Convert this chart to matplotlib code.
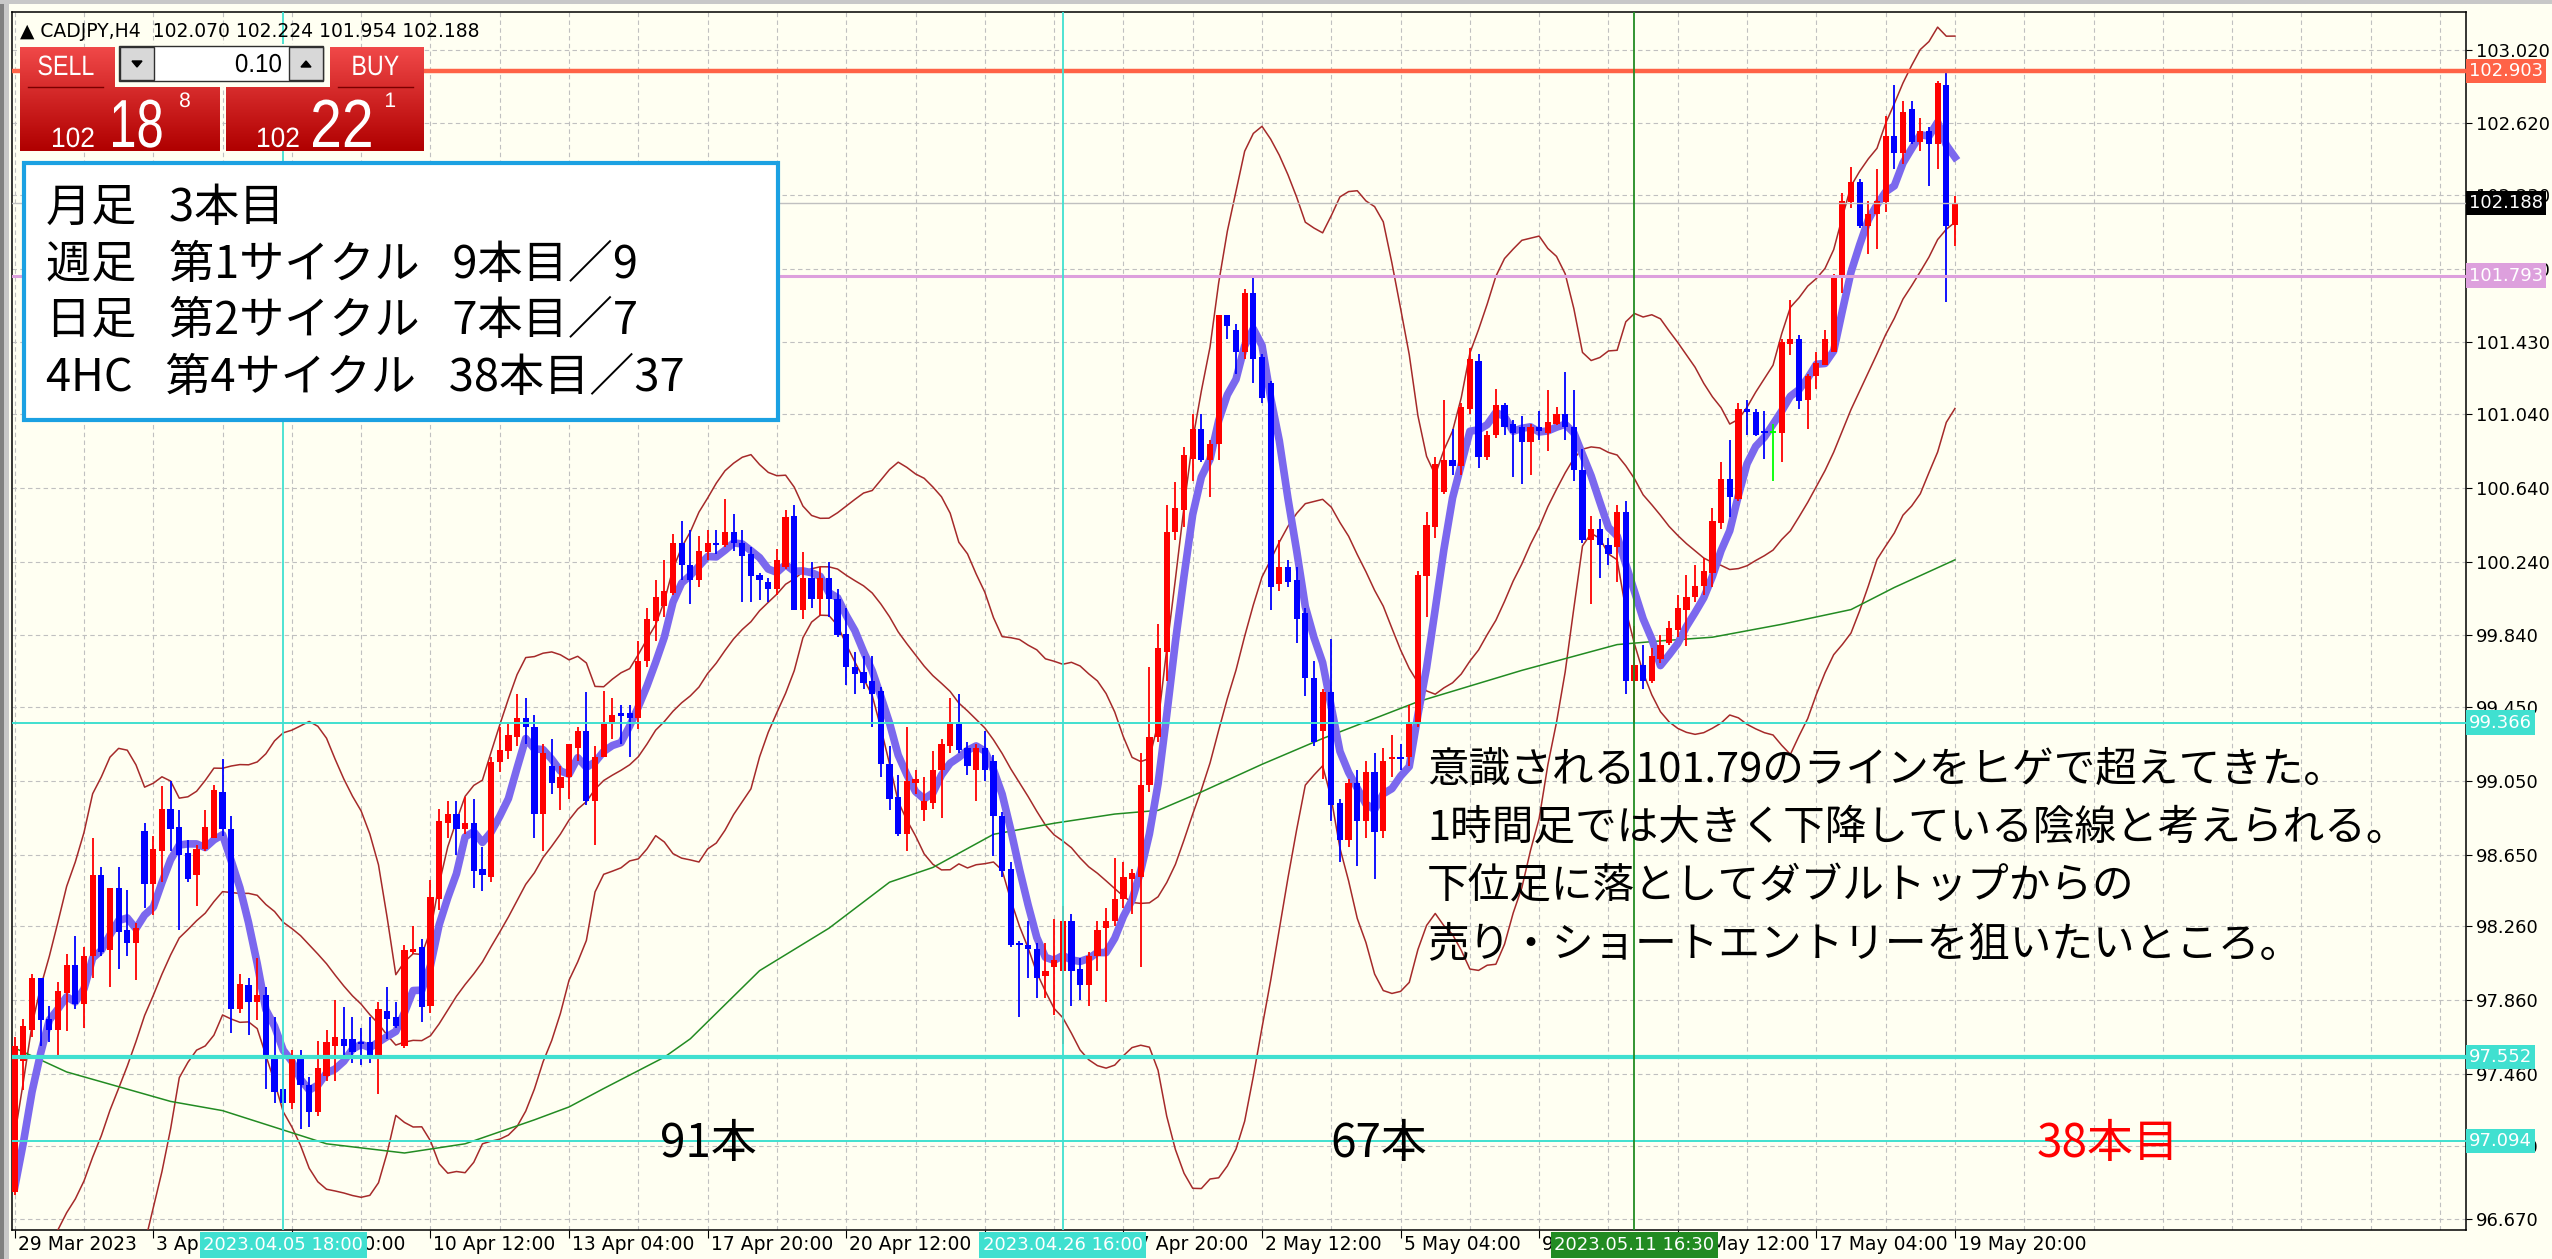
import numpy as np
import pandas as pd
import matplotlib
matplotlib.use("Agg")
import matplotlib.pyplot as plt
from matplotlib.patches import Rectangle, PathPatch, Polygon
from matplotlib.textpath import TextPath
from matplotlib.font_manager import FontProperties
from matplotlib.transforms import Affine2D
from matplotlib.colors import LinearSegmentedColormap

plt.rcParams['font.family'] = ['DejaVu Sans']
JP = ['Noto Sans CJK JP', 'DejaVu Sans']

# CADJPY H4, 29 Mar 2023 12:00 .. 19 May 2023 20:00 (225 bars)
opens = [96.82, 97.53, 97.70, 97.98, 97.76, 97.70, 97.90, 98.05, 97.84, 98.10,
         98.54, 98.13, 98.47, 98.24, 98.17, 98.78, 98.49, 98.67, 98.90, 98.80,
         98.66, 98.54, 98.68, 98.74, 98.99, 98.79, 97.81, 97.94, 97.85, 97.89,
         97.55, 97.38, 97.30, 97.55, 97.40, 97.25, 97.45, 97.61, 97.65, 97.65,
         97.63, 97.63, 97.54, 97.80, 97.77, 97.61, 98.12, 98.15, 97.83, 98.41,
         98.82, 98.87, 98.79, 98.82, 98.57, 98.53, 99.15, 99.21, 99.29, 99.39,
         99.34, 98.87, 99.13, 99.01, 99.07, 99.23, 99.32, 98.94, 99.18, 99.36,
         99.42, 99.42, 99.39, 99.70, 99.92, 100.00, 100.07, 100.34, 100.22, 100.14,
         100.29, 100.34, 100.33, 100.40, 100.34, 100.28, 100.17, 100.13, 100.09, 100.21,
         100.49, 99.98, 100.15, 100.04, 100.15, 100.04, 99.85, 99.67, 99.64, 99.59,
         99.54, 99.14, 98.96, 98.76, 99.04, 98.89, 98.93, 99.11, 99.24, 99.36,
         99.23, 99.11, 99.23, 99.16, 98.86, 98.57, 98.17, 98.16, 98.14, 97.99,
         98.04, 98.02, 98.29, 98.03, 97.94, 98.10, 98.25, 98.29, 98.41, 98.52,
         98.53, 99.03, 99.29, 99.75, 100.40, 100.52, 100.80, 100.96, 100.79, 100.88,
         101.58, 101.50, 101.38, 101.70, 101.35, 101.21, 100.12, 100.21, 100.14, 99.96,
         99.61, 99.32, 99.53, 98.93, 98.73, 99.04, 98.83, 99.10, 98.78, 99.17,
         99.18, 99.18, 99.36, 100.16, 100.43, 100.62, 100.79, 100.76, 101.07, 101.33,
         100.81, 100.93, 101.09, 100.99, 100.97, 100.89, 100.97, 100.94, 100.99, 101.04,
         100.97, 100.74, 100.36, 100.42, 100.33, 100.32, 100.51, 99.59, 99.68, 99.59,
         99.71, 99.80, 99.87, 99.98, 100.05, 100.11, 100.18, 100.45, 100.69, 100.58,
         101.07, 101.05, 100.95, 100.94, 100.94, 101.42, 101.45, 101.12, 101.25, 101.31,
         101.38, 101.79, 102.19, 102.30, 102.06, 102.13, 102.19, 102.55, 102.46, 102.70,
         102.52, 102.58, 102.51, 102.83, 102.070]
highs = [97.66, 97.76, 98.00, 97.98, 97.83, 97.96, 98.11, 98.21, 98.15, 98.74,
         98.58, 98.47, 98.58, 98.46, 98.28, 98.82, 98.75, 99.02, 99.05, 98.89,
         98.73, 98.70, 98.89, 99.03, 99.17, 98.86, 98.00, 97.98, 98.09, 97.93,
         97.77, 97.58, 97.59, 97.59, 97.44, 97.64, 97.70, 97.86, 97.82, 97.77,
         97.71, 97.77, 97.85, 97.93, 97.85, 98.16, 98.26, 98.19, 98.51, 98.90,
         98.94, 98.94, 98.96, 98.95, 98.69, 99.18, 99.34, 99.36, 99.52, 99.50,
         99.41, 99.25, 99.28, 99.13, 99.25, 99.34, 99.53, 99.24, 99.54, 99.50,
         99.46, 99.46, 99.81, 99.99, 100.14, 100.25, 100.39, 100.46, 100.41, 100.38,
         100.41, 100.41, 100.58, 100.50, 100.41, 100.32, 100.18, 100.15, 100.31, 100.52,
         100.55, 100.29, 100.24, 100.21, 100.24, 100.09, 99.99, 99.75, 99.73, 99.73,
         99.56, 99.24, 99.08, 99.34, 99.11, 99.07, 99.21, 99.28, 99.50, 99.52,
         99.26, 99.25, 99.32, 99.19, 98.88, 98.61, 98.18, 98.29, 98.17, 98.17,
         98.30, 98.37, 98.33, 98.09, 98.12, 98.29, 98.36, 98.63, 98.61, 98.57,
         99.20, 99.67, 99.90, 100.55, 100.67, 100.86, 101.04, 101.04, 100.90, 101.58,
         101.58, 101.53, 101.72, 101.78, 101.37, 101.22, 100.36, 100.25, 100.21, 99.99,
         99.70, 99.55, 99.82, 98.95, 99.06, 99.11, 99.16, 99.20, 99.23, 99.30,
         99.25, 99.46, 100.19, 100.51, 100.81, 101.12, 100.96, 101.10, 101.40, 101.37,
         100.95, 101.18, 101.10, 101.01, 101.03, 100.99, 101.06, 101.17, 101.08, 101.27,
         101.17, 100.85, 100.49, 100.47, 100.37, 100.55, 100.57, 99.89, 99.79, 99.77,
         99.84, 99.92, 100.06, 100.17, 100.22, 100.26, 100.53, 100.78, 100.90, 101.10,
         101.12, 101.07, 101.06, 100.99, 101.45, 101.66, 101.47, 101.26, 101.38, 101.50,
         101.80, 102.24, 102.38, 102.32, 102.20, 102.37, 102.66, 102.83, 102.74, 102.74,
         102.65, 102.60, 102.85, 102.90, 102.224]
lows = [96.80, 97.37, 97.66, 97.61, 97.63, 97.55, 97.69, 97.81, 97.71, 97.98,
        98.10, 97.93, 98.03, 98.10, 97.97, 98.36, 98.32, 98.50, 98.67, 98.24,
        98.50, 98.37, 98.67, 98.74, 98.75, 97.68, 97.79, 97.67, 97.75, 97.38,
        97.30, 97.09, 97.27, 97.16, 97.17, 97.23, 97.42, 97.42, 97.54, 97.52,
        97.51, 97.52, 97.35, 97.65, 97.71, 97.60, 98.11, 97.74, 97.79, 98.35,
        98.74, 98.65, 98.76, 98.47, 98.45, 98.50, 99.10, 99.17, 99.24, 99.25,
        98.74, 98.67, 98.98, 98.89, 98.95, 99.16, 98.92, 98.70, 99.18, 99.28,
        99.25, 99.18, 99.33, 99.67, 99.81, 99.94, 100.06, 100.14, 100.01, 100.10,
        100.25, 100.28, 100.32, 100.30, 100.02, 100.02, 100.03, 100.02, 100.06, 100.20,
        99.98, 99.93, 99.99, 99.95, 99.94, 99.83, 99.57, 99.52, 99.55, 99.34,
        99.07, 98.89, 98.75, 98.67, 98.98, 98.83, 98.90, 98.85, 99.20, 99.20,
        99.08, 98.94, 99.05, 98.64, 98.53, 98.15, 97.77, 97.98, 97.87, 97.87,
        97.78, 97.62, 97.83, 97.86, 97.83, 98.02, 97.85, 98.26, 98.36, 98.33,
        98.04, 98.99, 99.26, 99.59, 100.36, 100.43, 100.68, 100.78, 100.59, 100.79,
        101.45, 101.26, 101.34, 101.21, 101.10, 99.98, 100.08, 100.10, 99.80, 99.51,
        99.24, 99.06, 98.83, 98.61, 98.69, 98.59, 98.74, 98.52, 98.74, 99.07,
        99.11, 99.13, 99.34, 99.94, 100.37, 100.61, 100.71, 100.71, 101.04, 100.75,
        100.79, 100.91, 100.93, 100.70, 100.66, 100.71, 100.90, 100.84, 100.98, 100.90,
        100.68, 100.34, 100.01, 100.15, 100.22, 100.13, 99.52, 99.36, 99.55, 99.58,
        99.69, 99.79, 99.83, 99.78, 100.02, 100.06, 100.10, 100.42, 100.48, 100.57,
        100.93, 100.92, 100.80, 100.68, 100.78, 101.36, 101.07, 100.96, 101.18, 101.31,
        101.38, 101.70, 102.16, 102.05, 101.91, 101.94, 102.14, 102.37, 102.40, 102.51,
        102.47, 102.28, 102.37, 101.65, 101.954]
closes = [97.61, 97.72, 97.98, 97.75, 97.70, 97.91, 98.05, 97.84, 98.10, 98.54,
          98.12, 98.47, 98.23, 98.17, 98.25, 98.49, 98.68, 98.90, 98.79, 98.65,
          98.52, 98.68, 98.80, 99.00, 98.79, 97.81, 97.95, 97.85, 97.89, 97.54,
          97.36, 97.30, 97.55, 97.40, 97.25, 97.49, 97.63, 97.66, 97.61, 97.58,
          97.62, 97.54, 97.81, 97.76, 97.72, 98.13, 98.14, 97.82, 98.42, 98.83,
          98.87, 98.79, 98.82, 98.56, 98.54, 99.15, 99.22, 99.30, 99.39, 99.34,
          98.87, 99.20, 99.04, 99.07, 99.25, 99.32, 98.94, 99.18, 99.36, 99.41,
          99.40, 99.39, 99.70, 99.93, 100.05, 100.08, 100.34, 100.22, 100.14, 100.30,
          100.34, 100.33, 100.40, 100.34, 100.27, 100.16, 100.14, 100.09, 100.25, 100.48,
          99.98, 100.15, 100.04, 100.15, 100.04, 99.84, 99.67, 99.63, 99.58, 99.52,
          99.14, 98.95, 98.76, 99.05, 99.06, 98.94, 99.11, 99.25, 99.37, 99.22,
          99.13, 99.23, 99.11, 98.86, 98.56, 98.16, 98.16, 98.14, 97.98, 98.02,
          98.08, 98.29, 98.02, 97.94, 98.10, 98.24, 98.29, 98.41, 98.53, 98.55,
          99.03, 99.29, 99.77, 100.40, 100.53, 100.82, 100.96, 100.79, 100.88, 101.58,
          101.52, 101.38, 101.70, 101.34, 101.13, 100.10, 100.21, 100.13, 99.93, 99.61,
          99.26, 99.53, 98.92, 98.73, 99.04, 98.83, 99.10, 98.77, 99.16, 99.18,
          99.17, 99.36, 100.17, 100.44, 100.77, 100.79, 100.76, 101.08, 101.34, 100.81,
          100.93, 101.09, 100.97, 100.94, 100.89, 100.97, 100.95, 101.00, 101.04, 100.97,
          100.74, 100.36, 100.42, 100.33, 100.28, 100.51, 99.59, 99.68, 99.59, 99.73,
          99.79, 99.88, 99.99, 100.05, 100.11, 100.19, 100.46, 100.69, 100.59, 101.07,
          101.05, 100.93, 100.94, 100.94, 101.43, 101.45, 101.11, 101.25, 101.32, 101.45,
          101.79, 102.20, 102.30, 102.06, 102.13, 102.20, 102.55, 102.46, 102.68, 102.52,
          102.58, 102.51, 102.84, 102.06, 102.188]

# closes before the visible window (needed for the 5 MA and the 20 Bollinger band)
prior_close = [96.10, 96.25, 96.05, 95.90, 96.00, 96.20, 96.35, 96.15, 95.95, 95.80,
               95.70, 95.85, 95.75, 95.60, 95.65, 96.50, 96.60, 96.70, 96.80]

# long moving average (green)
ma_long_bar = [0, 6, 12, 18, 24, 30, 36, 45, 52, 60, 64, 68, 75, 78, 86, 94, 101, 106,
               113, 120, 127, 132, 137, 144, 151, 162, 174, 185, 190, 196, 204, 212, 217, 224]
ma_long_val = [97.60, 97.47, 97.39, 97.31, 97.26, 97.17, 97.08, 97.03, 97.08, 97.21, 97.28,
               97.38, 97.55, 97.65, 98.02, 98.25, 98.50, 98.58, 98.76, 98.82, 98.87, 98.89,
               98.99, 99.14, 99.28, 99.48, 99.65, 99.79, 99.81, 99.83, 99.90, 99.98, 100.10, 100.25]

time_tick_bar = list(range(0, 225, 16))
time_tick_label = ['29 Mar 2023', '3 Apr 04:00', '5 Apr 20:00', '10 Apr 12:00', '13 Apr 04:00',
                   '17 Apr 20:00', '20 Apr 12:00', '25 Apr 04:00', '27 Apr 20:00', '2 May 12:00',
                   '5 May 04:00', '9 May 20:00', '12 May 12:00', '17 May 04:00', '19 May 20:00']
price_ticks = [96.670, 97.070, 97.460, 97.860, 98.260, 98.650, 99.050, 99.450, 99.840,
               100.240, 100.640, 101.040, 101.430, 101.830, 102.230, 102.620, 103.020]

hline_price = [102.903, 102.188, 101.793, 99.366, 97.552, 97.094]
hline_color = ['#FF6347', '#C0C0C0', '#DDA0DD', '#40E0D0', '#40E0D0', '#40E0D0']
hline_width = [3.2, 1.0, 2.2, 1.4, 3.0, 1.4]
hline_box = ['#FF6347', '#000000', '#DDA0DD', '#40E0D0', '#40E0D0', '#40E0D0']

vline_bar = [31, 121, 187]
vline_label = ['2023.04.05 18:00', '2023.04.26 16:00', '2023.05.11 16:30']
vline_color = ['#40E0D0', '#40E0D0', '#228B22']

box_lines = ['月足  3本目', '週足  第1サイクル  9本目／9',
             '日足  第2サイクル  7本目／7', '4HC  第4サイクル  38本目／37']
note_lines = ['意識される101.79のラインをヒゲで超えてきた。',
              '1時間足では大きく下降している陰線と考えられる。',
              '下位足に落としてダブルトップからの',
              '売り・ショートエントリーを狙いたいところ。']
count_labels = ['91本', '67本', '38本目']
count_colors = ['black', 'black', '#FF0000']

# ---- figure ----
W, H = 2552, 1259
BG = '#FFFFF2'
fig = plt.figure(figsize=(W / 100, H / 100), dpi=100, facecolor=BG)
L, R, T, B = 12, 2466, 12, 1230
ax = fig.add_axes([L / W, 1 - B / H, (R - L) / W, (B - T) / H])
ax.set_facecolor(BG)
ax.set_xlim(-0.31, 283.0)
ax.set_ylim(96.612, 103.224)

# indicators
n0 = len(prior_close)
c_all = pd.Series(prior_close + closes)
sma5 = c_all.rolling(5).mean().to_numpy()[n0:]
mid = c_all.rolling(20).mean()
sd = c_all.rolling(20).std(ddof=0)
bb_mid = mid.to_numpy()[n0:]
bb_up = (mid + 2 * sd).to_numpy()[n0:]
bb_lo = (mid - 2 * sd).to_numpy()[n0:]

o, h, l, c = map(np.array, (opens, highs, lows, closes))
x = np.arange(len(c))

for band in (bb_up, bb_mid, bb_lo):
    ax.plot(x, band, color='#A52A2A', lw=1.1, zorder=3)
ax.plot(ma_long_bar, ma_long_val, color='#228B22', lw=1.1, zorder=3)
ax.plot(x, sma5, color='#7B68EE', lw=5.5, zorder=4)

# candles: red = up, blue = down, lime = doji
cols = np.where(c > o, '#FF0000', np.where(c < o, '#0000FF', '#00FF00'))
ax.vlines(x, l, h, colors=cols, lw=1.3, zorder=5)
body = np.maximum(np.abs(c - o), 0.01)
ax.bar(x, body, bottom=np.minimum(o, c), width=0.72, color=cols, lw=0, zorder=6)

# horizontal levels with price tags
for p, col, lw, bc in zip(hline_price, hline_color, hline_width, hline_box):
    ax.axhline(p, color=col, lw=lw, zorder=7)
    ax.text(1.0012, p, f'{p:.3f}', transform=ax.get_yaxis_transform(), ha='left', va='center',
            fontsize=13, color='white', zorder=30, clip_on=False,
            bbox=dict(boxstyle='square,pad=0.18', fc=bc, ec='none'))

# vertical lines with time tags
for b, lab, col in zip(vline_bar, vline_label, vline_color):
    ax.axvline(b, color=col, lw=1.3, zorder=7)
    ax.annotate(lab, xy=(b, 0), xycoords=('data', 'axes fraction'), xytext=(0, -15),
                textcoords='offset pixels', ha='center', va='center', fontsize=13, color='white',
                zorder=30, annotation_clip=False,
                bbox=dict(boxstyle='square,pad=0.2', fc=col, ec='none'))

# axes, grid, ticks
ax.set_yticks(price_ticks)
ax.set_yticklabels([f'{p:.3f}' for p in price_ticks])
ax.set_xticks(time_tick_bar)
ax.set_xticks(np.arange(0, 284, 8), minor=True)
ax.set_axisbelow(True)
ax.grid(True, which='major', color='#C0C0C0', lw=0.8, ls=(0, (4, 3)))
ax.grid(True, which='minor', axis='x', color='#C0C0C0', lw=0.8, ls=(0, (4, 3)))
ax.yaxis.tick_right()
ax.tick_params(axis='y', direction='out', length=4, width=0.8, pad=3, labelsize=13)
ax.tick_params(axis='x', which='major', direction='out', length=6, width=0.8, labelbottom=False)
ax.tick_params(axis='x', which='minor', length=0)
for s in ax.spines.values():
    s.set_color('black')
    s.set_linewidth(1.1)
for b, lab in zip(time_tick_bar, time_tick_label):
    ax.annotate(lab, xy=(b, 0), xycoords=('data', 'axes fraction'), xytext=(3, -15),
                textcoords='offset pixels', ha='left', va='center', fontsize=13.5,
                annotation_clip=False, zorder=20)

# ---- overlay in pixel coordinates ----
ov = fig.add_axes([0, 0, 1, 1], zorder=10)
ov.patch.set_alpha(0)
ov.axis('off')

# window chrome
ov.add_patch(Rectangle((0, 0), 4, H, color='#808080', lw=0))
ov.add_patch(Rectangle((4, 0), 5, H, color='#C8C8C8', lw=0))
ov.add_patch(Rectangle((0, 0), W, 4, color='#C8C8C8', lw=0))

ov.text(20, 31, '▲ CADJPY,H4  102.070 102.224 101.954 102.188', fontsize=13.5, va='center')

# one-click trading panel
fp = FontProperties(family='Liberation Sans')


def squish(s, xx, yy, em, sx, color, ha='left'):
    tp = TextPath((0, 0), s, size=em, prop=fp)
    ext = tp.get_extents()
    w = ext.width * sx
    if ha == 'center':
        x0 = xx - w / 2 - ext.x0 * sx
    elif ha == 'right':
        x0 = xx - w - ext.x0 * sx
    else:
        x0 = xx - ext.x0 * sx
    path = Affine2D().scale(sx, -1).translate(x0, yy).transform_path(tp)
    ov.add_patch(PathPatch(path, fc=color, ec='none', lw=0, zorder=8))


grad = np.linspace(0, 1, 64).reshape(-1, 1)
cmap = LinearSegmentedColormap.from_list('mt', ['#F04848', '#B00000'])
ov.imshow(grad, extent=(20, 220, 151, 47), cmap=cmap, aspect='auto', origin='upper', zorder=2)
ov.imshow(grad, extent=(226, 424, 151, 47), cmap=cmap, aspect='auto', origin='upper', zorder=2)
ov.add_patch(Rectangle((115, 44), 215, 43, fc=BG, ec='none', zorder=3))
ov.add_patch(Rectangle((119, 46), 204, 35, fc='white', ec='#303030', lw=1, zorder=4))
ov.add_patch(Rectangle((120, 47), 34, 33, fc='#D8D8D8', ec='#303030', lw=1, zorder=5))
ov.add_patch(Rectangle((289, 47), 34, 33, fc='#D8D8D8', ec='#303030', lw=1, zorder=5))
ov.add_patch(Polygon([(132, 61), (142, 61), (137, 67)], color='black', zorder=6))
ov.add_patch(Polygon([(301, 67), (311, 67), (306, 61)], color='black', zorder=6))
ov.plot([28, 103], [87, 87], color='#7A0000', lw=1, zorder=6)
ov.plot([338, 413], [87, 87], color='#7A0000', lw=1, zorder=6)
squish('SELL', 66, 75, 28, 0.83, 'white', ha='center')
squish('BUY', 376, 75, 28, 0.83, 'white', ha='center')
squish('0.10', 281, 72, 26, 0.93, 'black', ha='right')
squish('102', 53, 147, 28, 0.94, 'white')
squish('18', 113, 147, 68, 0.72, 'white')
squish('8', 180, 107, 21, 1.0, 'white')
squish('102', 258, 147, 28, 0.94, 'white')
squish('22', 313, 147, 68, 0.84, 'white')
squish('1', 386, 107, 21, 1.0, 'white')

# info box
ov.add_patch(Rectangle((24, 163), 754, 257, fc='white', ec='#1BA1E2', lw=3.0, zorder=5))
for i, s in enumerate(box_lines):
    ov.text(46, 208 + 56.5 * i, s.replace('  ', '\u2002 '), family=JP, fontsize=32.5,
            va='center', ha='left', zorder=6)

# comment
for i, s in enumerate(note_lines):
    ov.text(1427, 770 + 58.3 * i, s, family=JP, fontsize=30, va='center', ha='left', zorder=6)

for xx, s, col in zip([708, 1379, 2108], count_labels, count_colors):
    ov.text(xx, 1144, s, family=JP, fontsize=33, va='center', ha='center', color=col, zorder=6)

ov.set_xlim(0, W)
ov.set_ylim(H, 0)

fig.savefig('out.png', dpi=100, facecolor=BG)
